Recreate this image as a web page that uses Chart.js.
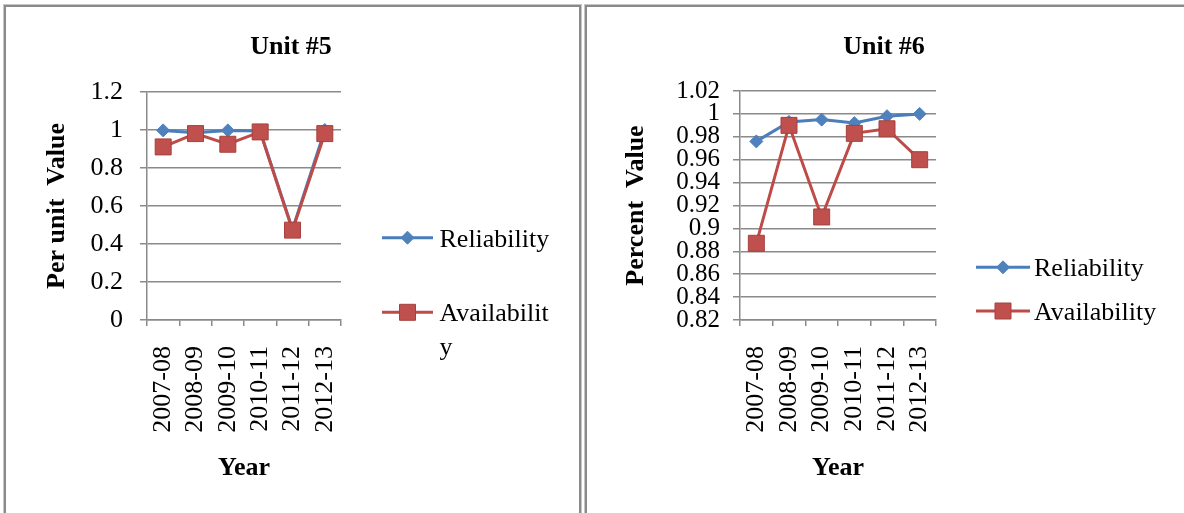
<!doctype html>
<html lang="en">
<head>
<meta charset="utf-8">
<title>Unit #5 / Unit #6 Reliability and Availability</title>
<script src="https://cdn.jsdelivr.net/npm/chart.js@4.4.1/dist/chart.umd.min.js"></script>
<style>
  body { margin: 0; width: 1184px; height: 513px; overflow: hidden; background: #fff; position: relative; }
  .frame { position: absolute; top: 5px; height: 560px; border: 2px solid #8a8a8a; outline: 1px solid #c6c6c6; }
  #frame5 { left: 4px; width: 573px; }
  #frame6 { left: 585px; width: 640px; }
  canvas { position: absolute; top: 0; }
  #unit5 { left: 0; }
  #unit6 { left: 584px; }
</style>
</head>
<body>

<div class="frame" id="frame5"></div>
<div class="frame" id="frame6"></div>
<canvas id="unit5" width="582" height="513"></canvas>
<canvas id="unit6" width="600" height="513"></canvas>

<script>
// values
var years = ['2007-08', '2008-09', '2009-10', '2010-11', '2011-12', '2012-13'];

var unit5Reliability  = [0.998, 0.985, 0.998, 0.995, 0.478, 1.0];
var unit5Availability = [0.911, 0.981, 0.925, 0.990, 0.473, 0.981];

var unit6Reliability  = [0.976, 0.993, 0.995, 0.992, 0.998, 1.0];
var unit6Availability = [0.887, 0.990, 0.910, 0.983, 0.987, 0.960];

var seriesNames = ['Reliability', 'Availability'];

var FONT = '"Liberation Serif", "Times New Roman", serif';
var GRID = '#8a8a8a';
var BLUE = '#4a7ebb', BLUE_PT = '#4f81bd';
var RED = '#be4b48', RED_PT = '#c0504d', RED_EDGE = '#a5403d';

// wrap a legend label by characters, the way Excel does when the box is narrow
function wrapChars(ctx, text, maxWidth) {
  if (!maxWidth) return [text];
  var lines = [], cur = '';
  for (var i = 0; i < text.length; i++) {
    var next = cur + text[i];
    if (cur && ctx.measureText(next).width > maxWidth) { lines.push(cur); cur = text[i]; }
    else cur = next;
  }
  lines.push(cur);
  return lines;
}

function marker(ctx, style, r, x, y) {
  ctx.beginPath();
  if (style === 'rectRot') {
    ctx.moveTo(x - r, y); ctx.lineTo(x, y - r); ctx.lineTo(x + r, y); ctx.lineTo(x, y + r);
  } else {
    var s = r * Math.SQRT1_2;
    ctx.rect(x - s, y - s, 2 * s, 2 * s);
  }
  ctx.closePath();
  ctx.fill();
  ctx.stroke();
}

// title + Excel style legend (line with marker)
var frameText = {
  id: 'frameText',
  afterDraw: function(chart, args, o) {
    var ctx = chart.ctx;
    ctx.save();
    ctx.fillStyle = '#000';
    ctx.textBaseline = 'alphabetic';
    ctx.font = 'bold 26px ' + FONT;
    ctx.textAlign = 'center';
    ctx.fillText(o.title, chart.width / 2, o.titleY);

    ctx.font = '26px ' + FONT;
    ctx.textAlign = 'left';
    chart.data.datasets.forEach(function(ds, i) {
      var y = o.rows[i];
      ctx.strokeStyle = ds.borderColor;
      ctx.lineWidth = ds.borderWidth;
      ctx.beginPath(); ctx.moveTo(o.x0, y); ctx.lineTo(o.x1, y); ctx.stroke();
      ctx.fillStyle = ds.pointBackgroundColor;
      ctx.strokeStyle = ds.pointBorderColor;
      ctx.lineWidth = ds.pointBorderWidth;
      marker(ctx, ds.pointStyle, ds.pointRadius, (o.x0 + o.x1) / 2, y);
      ctx.fillStyle = '#000';
      wrapChars(ctx, ds.label, o.maxWidth).forEach(function(line, k) {
        ctx.fillText(line, o.textX, y + 9 + k * 33.5);
      });
    });
    ctx.restore();
  }
};

function makeChart(id, cfg) {
  return new Chart(document.getElementById(id), {
    type: 'line',
    data: {
      labels: years,
      datasets: [{
        label: seriesNames[0],
        data: cfg.rel,
        order: 1,
        borderColor: BLUE, borderWidth: 3, tension: 0,
        pointStyle: 'rectRot', pointRadius: 6.5, pointHoverRadius: 6.5,
        pointBackgroundColor: BLUE_PT, pointBorderColor: BLUE_PT, pointBorderWidth: 1
      }, {
        label: seriesNames[1],
        data: cfg.avail,
        order: 0,
        borderColor: RED, borderWidth: 3, tension: 0,
        pointStyle: 'rect', pointRadius: 11.3, pointHoverRadius: 11.3,
        pointBackgroundColor: RED_PT, pointBorderColor: RED_EDGE, pointBorderWidth: 1
      }]
    },
    options: {
      responsive: false,
      animation: false,
      events: [],
      devicePixelRatio: 1,
      layout: { padding: { left: 6, top: cfg.top, right: cfg.right, bottom: 0 } },
      plugins: {
        legend: { display: false },
        tooltip: { enabled: false },
        frameText: cfg.frame
      },
      scales: {
        x: {
          offset: true,
          afterFit: function(s) { s.height = 513 - cfg.bottom; },
          border: { color: GRID, width: 1.5 },
          grid: { offset: true, drawOnChartArea: false, color: GRID, lineWidth: 1.5, tickLength: 6 },
          ticks: { autoSkip: false, minRotation: 90, maxRotation: 90, padding: 20, color: '#000',
                   font: { family: FONT, size: 26 } },
          title: { display: true, text: 'Year', color: '#000',
                   font: { family: FONT, size: 26, weight: 'bold' }, padding: { top: 0, bottom: 29 } }
        },
        y: {
          min: cfg.min, max: cfg.max,
          afterFit: function(s) { s.width = cfg.axisX - 6; },
          border: { color: GRID, width: 1.5 },
          grid: { color: GRID, lineWidth: 1.5, tickLength: 7 },
          ticks: { stepSize: cfg.step, autoSkip: false, padding: cfg.tickPad, color: '#000',
                   font: { family: FONT, size: cfg.tickSize },
                   callback: function(v) { return String(+v.toFixed(2)); } },
          title: { display: true, text: cfg.yTitle, color: '#000',
                   font: { family: FONT, size: 26, weight: 'bold' }, padding: { top: cfg.yTitlePad, bottom: 0 } }
        }
      }
    },
    plugins: [frameText]
  });
}

makeChart('unit5', {
  rel: unit5Reliability, avail: unit5Availability,
  min: 0, max: 1.2, step: 0.2,
  yTitle: 'Per unit  Value',
  top: 92, bottom: 320, right: 582 - 341, axisX: 147,
  tickPad: 17, tickSize: 26, yTitlePad: 36,
  frame: { title: 'Unit #5', titleY: 54, x0: 382, x1: 433, textX: 439.5, rows: [237.7, 312.3], maxWidth: 115 }
});

makeChart('unit6', {
  rel: unit6Reliability, avail: unit6Availability,
  min: 0.82, max: 1.02, step: 0.02,
  yTitle: 'Percent  Value',
  top: 91, bottom: 320, right: 600 - 352, axisX: 156,
  tickPad: 13, tickSize: 25, yTitlePad: 31,
  frame: { title: 'Unit #6', titleY: 54, x0: 392, x1: 446, textX: 450, rows: [267.3, 311], maxWidth: 0 }
});
</script>
</body>
</html>
